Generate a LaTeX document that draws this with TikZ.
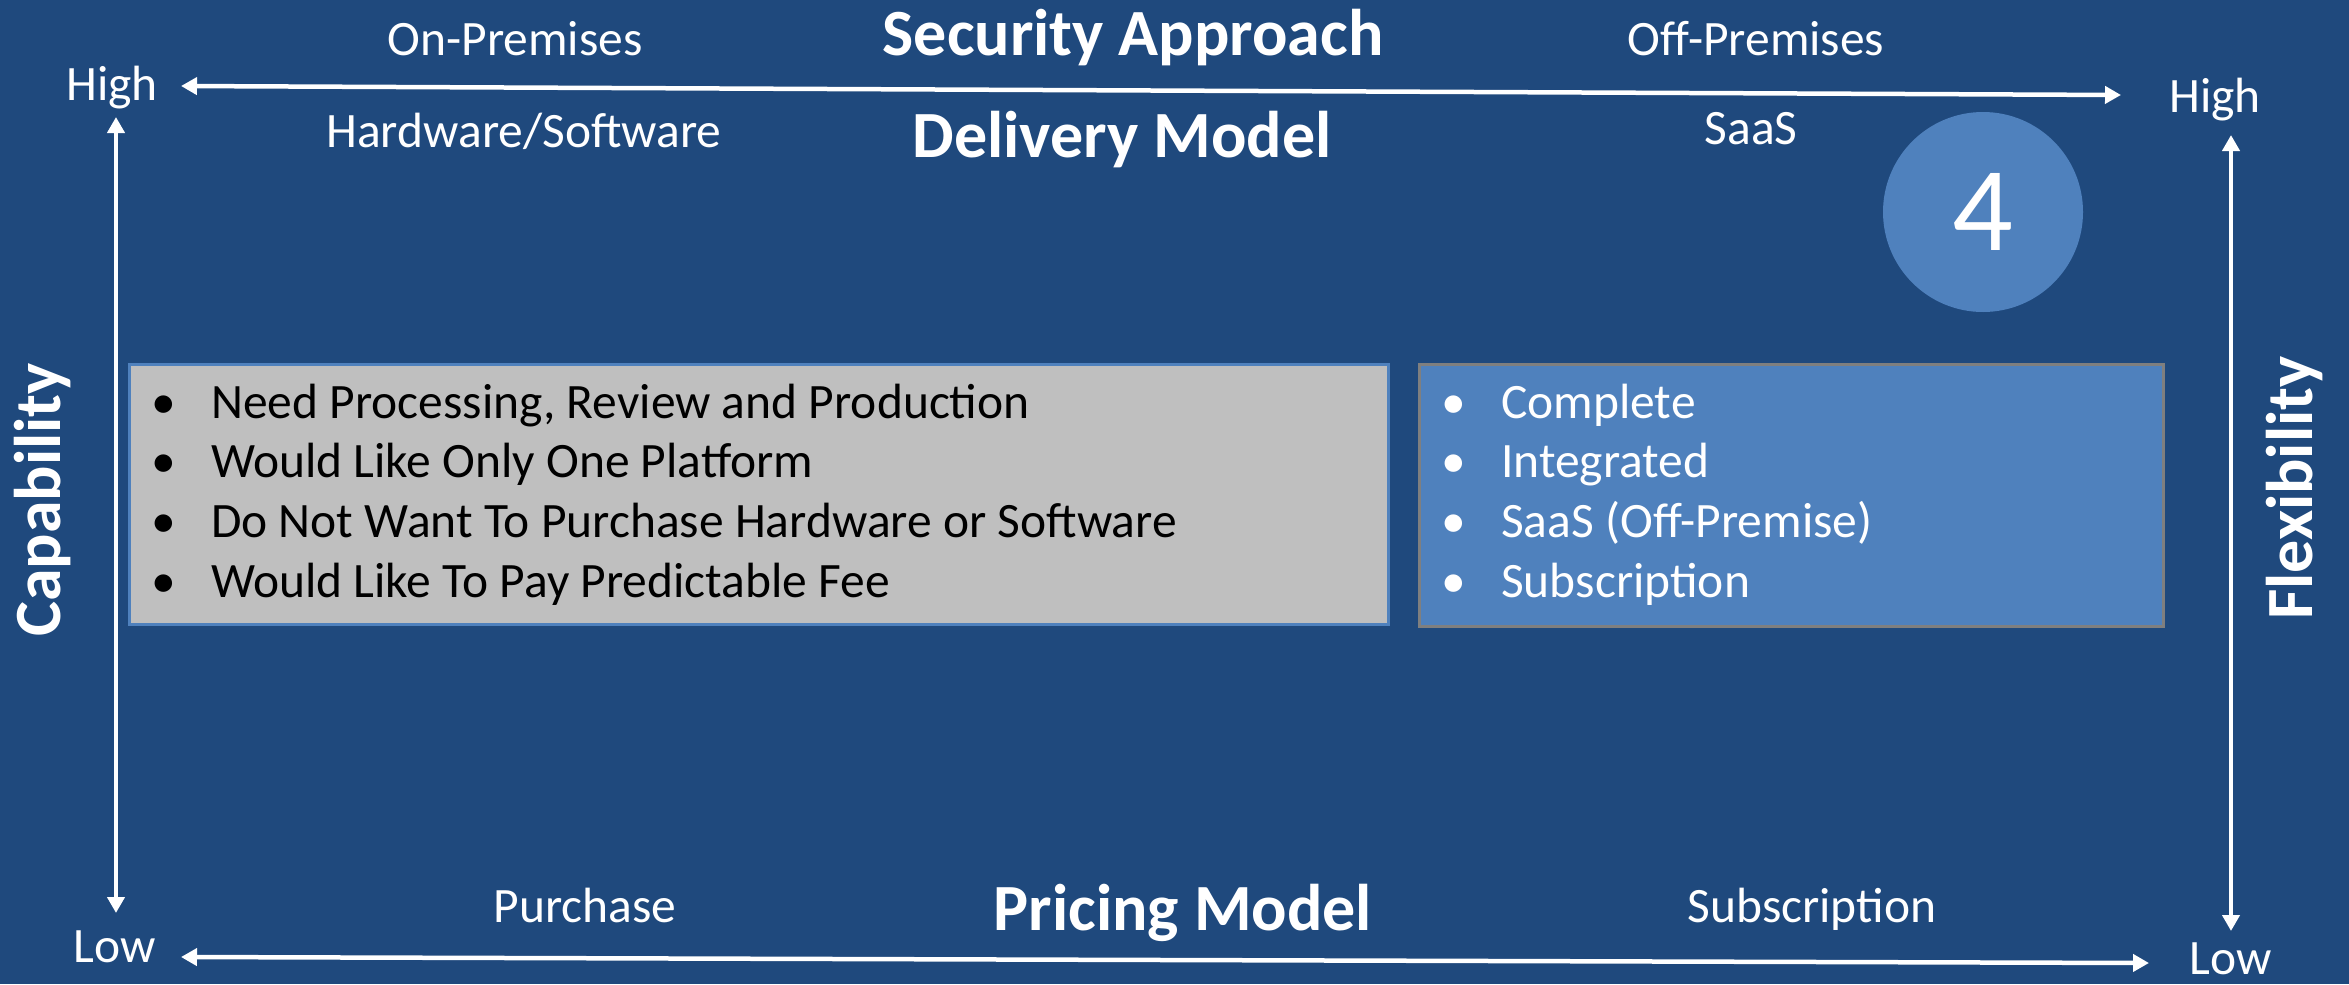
\documentclass[tikz,border=0pt]{standalone}
\usepackage{fontspec}
\setmainfont{Carlito}
\usetikzlibrary{arrows.meta}
\definecolor{bgblue}{HTML}{1F497D}
\definecolor{accblue}{HTML}{4F81BD}
\definecolor{boxgray}{HTML}{BFBFBF}
\definecolor{edgegray}{HTML}{7F7F7F}
\begin{document}
\begin{tikzpicture}[x=1bp,y=-1bp,
  lbl/.style={text=white, inner sep=0, anchor=base, font=\fontsize{49.5bp}{59bp}\selectfont},
  ttl/.style={text=white, inner sep=0, anchor=base, font=\fontsize{66bp}{79bp}\selectfont\bfseries},
  axisline/.style={draw=white, line width=4.5bp, {Triangle[length=16bp,width=17bp]}-{Triangle[length=16bp,width=17bp]}},
  bodytext/.style={inner sep=0, anchor=base west, font=\fontsize{49.5bp}{59.7bp}\selectfont},
  needbox/.style={draw=accblue, fill=boxgray, line width=3bp, inner sep=0, anchor=north west},
  offerbox/.style={draw=edgegray, fill=accblue, line width=3bp, inner sep=0, anchor=north west}]
\useasboundingbox (0,0) rectangle (2349,984);
\fill[bgblue] (0,0) rectangle (2349,984);

% axis end points
\coordinate (topL) at (181,86);
\coordinate (topR) at (2121,95);
\coordinate (botL) at (181,957);
\coordinate (botR) at (2149,963);
\coordinate (leftT) at (116,117);
\coordinate (leftB) at (116,913);
\coordinate (rightT) at (2231,135);
\coordinate (rightB) at (2231,931);

\draw[axisline] (topL) -- (topR);
\draw[axisline] (botL) -- (botR);
\draw[axisline] (leftT) -- (leftB);
\draw[axisline] (rightT) -- (rightB);

% corner labels
\node[lbl] (hiL) at (112,100) {High};
\node[lbl] (hiR) at (2215,112) {High};
\node[lbl] (loL) at (115,962) {Low};
\node[lbl] (loR) at (2231,974) {Low};

% top labels
\node[lbl] (onprem) at (515,55) {On-Premises};
\node[lbl] (hwsw) at (524,147) {Hardware/Software};
\node[lbl] (offprem) at (1756,55) {Off-Premises};
\node[lbl] (saas) at (1751,144) {SaaS};
\node[ttl] (secur) at (1133,55) {Security Approach};
\node[ttl] (deliv) at (1122,157) {Delivery Model};

% bottom labels
\node[lbl] (purch) at (585,922) {Purchase};
\node[lbl] (subs) at (1812,922) {Subscription};
\node[ttl] (pricing) at (1183,930) {Pricing Model};

% side titles
\node[ttl, rotate=90] (capab) at (60,500) {Capability};
\node[ttl, rotate=90] (flex) at (2312,488) {Flexibility};

% number circle
\node[circle, fill=accblue, minimum size=200bp, inner sep=0, text=white,
      font=\fontsize{120bp}{144bp}\selectfont] (four) at (1983,212) {4};

% boxes
\node[needbox, minimum width=1259bp, minimum height=260bp] (needs) at (128,363) {};
\node[offerbox, minimum width=744bp, minimum height=262bp] (offer) at (1418,363) {};

\node[bodytext, text=black] (needtext) at (151,418) {\begin{tabular}[t]{@{}l@{}}
\makebox[60bp][l]{•}Need Processing, Review and Production\\
\makebox[60bp][l]{•}Would Like Only One Platform\\
\makebox[60bp][l]{•}Do Not Want To Purchase Hardware or Software\\
\makebox[60bp][l]{•}Would Like To Pay Predictable Fee
\end{tabular}};

\node[bodytext, text=white] (offertext) at (1441,418) {\begin{tabular}[t]{@{}l@{}}
\makebox[60bp][l]{•}Complete\\
\makebox[60bp][l]{•}Integrated\\
\makebox[60bp][l]{•}SaaS (Off-Premise)\\
\makebox[60bp][l]{•}Subscription
\end{tabular}};
\end{tikzpicture}
\end{document}
